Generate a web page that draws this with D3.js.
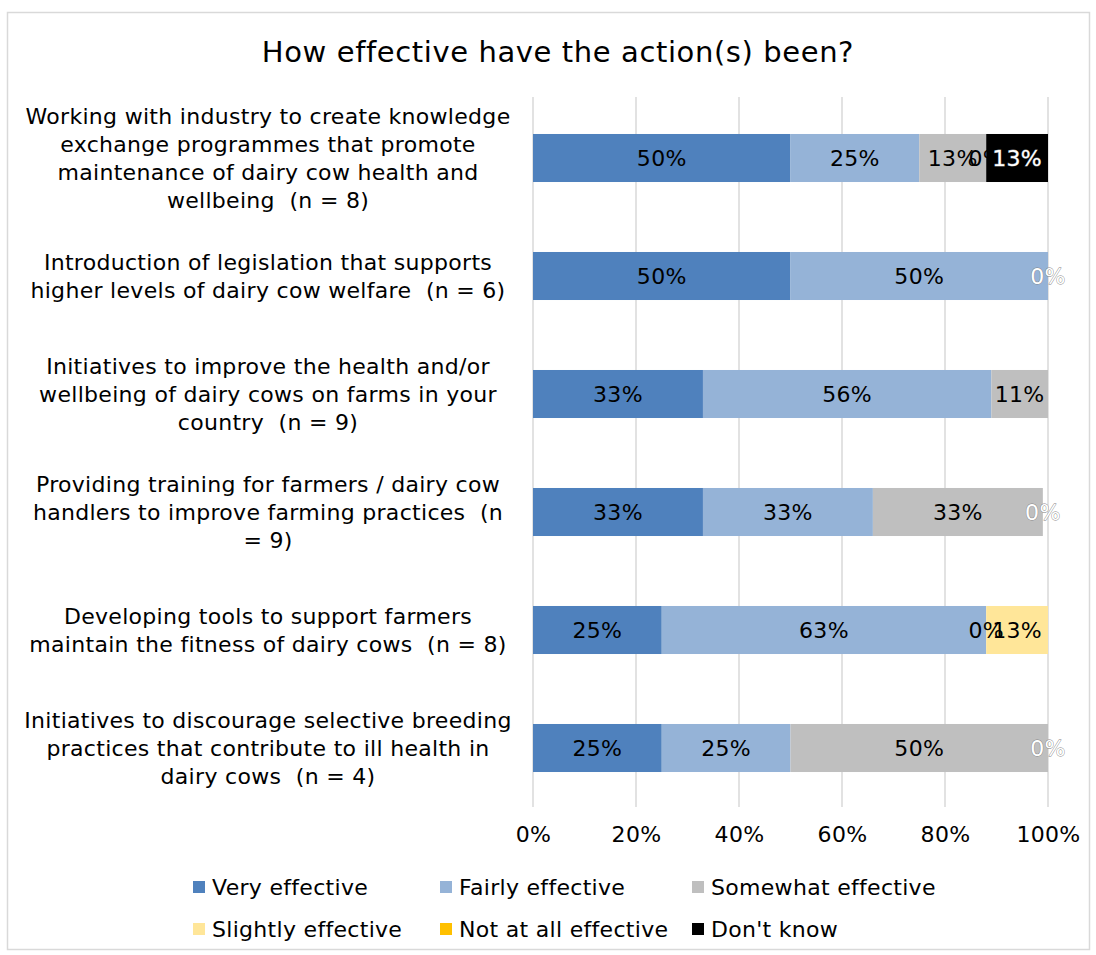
<!DOCTYPE html>
<html>
<head>
<meta charset="utf-8">
<script src="https://cdn.jsdelivr.net/npm/d3@7"></script>
<style>
  body { margin: 0; background: #fff; }
  svg text { font-family: "DejaVu Sans", Verdana, sans-serif; white-space: pre; }
</style>
</head>
<body>
<svg id="chart" width="1096" height="955"></svg>
<script>
// categories, already broken into lines as in the original
var categories = [
    ["Working with industry to create knowledge", "exchange programmes that promote", "maintenance of dairy cow health and", "wellbeing  (n = 8)"],
    ["Introduction of legislation that supports", "higher levels of dairy cow welfare  (n = 6)"],
    ["Initiatives to improve the health and/or", "wellbeing of dairy cows on farms in your", "country  (n = 9)"],
    ["Providing training for farmers / dairy cow", "handlers to improve farming practices  (n", "= 9)"],
    ["Developing tools to support farmers", "maintain the fitness of dairy cows  (n = 8)"],
    ["Initiatives to discourage selective breeding", "practices that contribute to ill health in", "dairy cows  (n = 4)"]
];

// series values in % (null = no value / no label)
var veryEffective     = [50, 50, 33, 33, 25, 25];
var fairlyEffective   = [25, 50, 56, 33, 63, 25];
var somewhatEffective = [13, null, 11, 33, 0, 50];
var slightlyEffective = [0, null, null, null, 13, null];
var notAtAllEffective = [null, null, null, null, null, null];
var dontKnow          = [13, 0, null, 0, null, 0];

var seriesNames  = ["Very effective", "Fairly effective", "Somewhat effective", "Slightly effective", "Not at all effective", "Don't know"];
var seriesColors = ["#4F81BD", "#95B3D7", "#BFBFBF", "#FFE699", "#FFC000", "#000000"];
var xTicks = [0, 20, 40, 60, 80, 100];

var seriesValues = [veryEffective, fairlyEffective, somewhatEffective, slightlyEffective, notAtAllEffective, dontKnow];

var svg = d3.select("#chart");
var margin = {top: 99, left: 533, right: 48, bottom: 148};
var width = 1096 - margin.left - margin.right;
var height = 955 - margin.top - margin.bottom;
var fs = "22px", ls = "0.3px";  // Verdana-ish width with DejaVu

// outer border
svg.append("rect")
    .attr("x", 7.5).attr("y", 12.5)
    .attr("width", 1082).attr("height", 937)
    .attr("fill", "none")
    .attr("stroke", "#d9d9d9")
    .attr("stroke-width", 1.5);

// title
svg.append("text")
    .attr("x", 558).attr("y", 62)
    .attr("text-anchor", "middle")
    .style("font-size", "29px")
    .style("letter-spacing", "0.6px")
    .attr("fill", "#000")
    .text("How effective have the action(s) been?");

var x = d3.scaleLinear().domain([0, 100]).range([0, width]).clamp(true);
var y = d3.scaleBand()
    .domain(d3.range(categories.length))
    .range([0, height])
    .paddingInner(0.593)
    .paddingOuter(0.2965);

var g = svg.append("g")
    .attr("transform", "translate(" + margin.left + "," + margin.top + ")");

// gridlines
g.append("g")
    .selectAll("line")
    .data(xTicks)
    .enter().append("line")
    .attr("x1", d => x(d)).attr("x2", d => x(d))
    .attr("y1", -2).attr("y2", height)
    .attr("stroke", "#d9d9d9")
    .attr("stroke-width", 1.5);

// x axis labels
var xAxis = d3.axisBottom(x)
    .tickValues(xTicks)
    .tickSize(0)
    .tickPadding(19)
    .tickFormat(d => d + "%");

g.append("g")
    .attr("transform", "translate(0," + height + ")")
    .call(xAxis)
    .call(a => a.select(".domain").remove())
    .selectAll("text")
    .style("font-size", fs)
    .style("letter-spacing", ls)
    .style("font-family", "DejaVu Sans, Verdana, sans-serif")
    .attr("fill", "#000");

// build stacked segments
var segments = [];
categories.forEach(function(cat, i) {
    var acc = 0;
    seriesValues.forEach(function(vals, s) {
        var v = vals[i];
        if (v === null) return;
        segments.push({cat: i, series: s, value: v, x0: acc, x1: acc + v});
        acc += v;
    });
});

// bars
g.append("g")
    .selectAll("rect")
    .data(segments.filter(d => d.value > 0))
    .enter().append("rect")
    .attr("x", d => x(d.x0))
    .attr("y", d => y(d.cat))
    .attr("width", d => x(d.x1) - x(d.x0))
    .attr("height", y.bandwidth())
    .attr("fill", d => seriesColors[d.series]);

// data labels
g.append("g")
    .selectAll("text")
    .data(segments)
    .enter().append("text")
    .attr("x", d => (x(d.x0) + x(d.x1)) / 2)
    .attr("y", d => y(d.cat) + y.bandwidth() / 2)
    .attr("dy", "0.36em")
    .attr("text-anchor", "middle")
    .style("font-size", fs)
    .style("letter-spacing", ls)
    .attr("fill", d => d.series === 5 ? "#fff" : "#000")
    .attr("stroke", d => d.series === 5 ? "#808080" : "none")
    .attr("stroke-width", 0.8)
    .attr("paint-order", "stroke")
    .text(d => d.value + "%");

// category labels
var catG = svg.append("g");
categories.forEach(function(lines, i) {
    var cy = margin.top + y(i) + y.bandwidth() / 2;
    var lh = 27.8;
    var t = catG.append("text")
        .attr("text-anchor", "middle")
        .style("font-size", fs)
        .style("letter-spacing", ls)
        .attr("fill", "#000");
    lines.forEach(function(line, k) {
        t.append("tspan")
            .attr("x", 268)
            .attr("y", cy + (k - (lines.length - 1) / 2) * lh)
            .attr("dy", "0.36em")
            .text(line);
    });
});

// legend
var legendCols = [193, 440, 692];
var legendRows = [887, 929];
var legend = svg.append("g");
seriesNames.forEach(function(name, i) {
    var lx = legendCols[i % 3];
    var ly = legendRows[Math.floor(i / 3)];
    legend.append("rect")
        .attr("x", lx).attr("y", ly - 6)
        .attr("width", 12).attr("height", 12)
        .attr("fill", seriesColors[i]);
    legend.append("text")
        .attr("x", lx + 19).attr("y", ly)
        .attr("dy", "0.36em")
        .style("font-size", fs)
        .style("letter-spacing", ls)
        .attr("fill", "#000")
        .text(name);
});
</script>
</body>
</html>
